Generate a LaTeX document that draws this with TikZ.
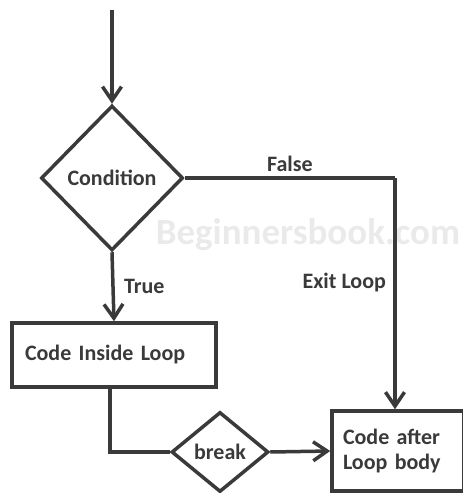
\documentclass[tikz,border=0pt]{standalone}
\usepackage{fontspec}
\setmainfont{Carlito}
\usetikzlibrary{shapes.geometric,arrows.meta}
\definecolor{ink}{HTML}{3A3A3A}
\definecolor{mark}{HTML}{EAEAEA}

\tikzset{
    block/.style={draw=ink, line width=3.5pt, text=ink, align=left, inner sep=0pt},
    decision/.style={diamond, draw=ink, line width=3.5pt, text=ink, inner sep=0pt},
    flow/.style={draw=ink, line width=3.5pt, -{Straight Barb[length=14pt,width=19pt]}},
    link/.style={draw=ink, line width=3.5pt},
    tag/.style={text=ink}
}

\begin{document}
\begin{tikzpicture}[x=1pt, y=-1pt, font=\bfseries\fontsize{22}{25}\selectfont]
    \useasboundingbox (0,0) rectangle (463,493);

    \node[text=mark, font=\bfseries\fontsize{37}{40}\selectfont] (wm) at (308,235) {Beginnersbook.com}; %watermark

    \coordinate (start) at (112,10);
    \node[decision, minimum width=142pt, minimum height=145pt] (cond) at (112,178) {Condition};
    \node[block, text width=178pt, minimum height=64pt, inner xsep=13pt] (inside) at (114,355) {Code Inside Loop};
    \node[block, text width=110pt, minimum height=80pt, inner xsep=11pt] (after) at (398,451) {Code after\\Loop body};
    \node[decision, minimum width=97pt, minimum height=80pt] (brk) at (220,452) {break};
    \coordinate (exit) at (395,178);

    \draw[flow] (start) -- (cond.north);
    \draw[flow] (cond.south) -- (inside.north) node[tag, midway, right=6pt] {True};
    \draw[link] (cond.east) -- (exit) node[tag, midway, above=1pt] {False};
    \draw[flow] (exit) -- (exit |- after.north) node[tag, pos=0.45, left=4pt] {Exit Loop};
    \draw[link] (inside.south -| 110,0) |- (brk.west);
    \draw[flow] (brk.east) -- (after.west);
\end{tikzpicture}
\end{document}
